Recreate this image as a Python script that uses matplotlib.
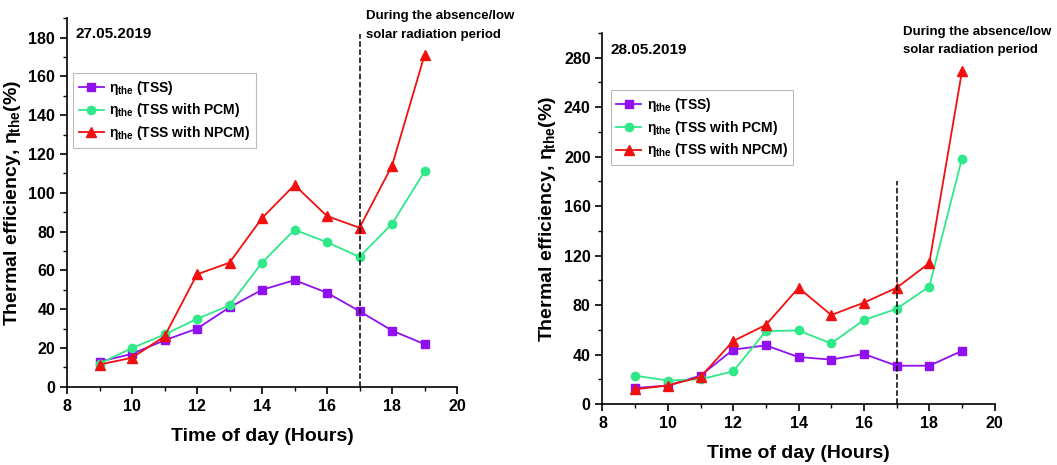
import numpy as np
import matplotlib
matplotlib.use('Agg')
import matplotlib.pyplot as plt
from matplotlib.ticker import MultipleLocator

plt.rcParams['font.family'] = ['Liberation Sans', 'DejaVu Sans']
plt.rcParams['font.weight'] = 'bold'
plt.rcParams['mathtext.fontset'] = 'custom'
plt.rcParams['mathtext.rm'] = 'Liberation Sans:bold'
plt.rcParams['mathtext.it'] = 'Liberation Sans:bold'
plt.rcParams['mathtext.bf'] = 'Liberation Sans:bold'

# Data
hours = [9, 10, 11, 12, 13, 14, 15, 16, 17, 18, 19]

tss_day1 = [13, 17, 24, 30, 41, 50, 55, 48.5, 39, 29, 22]
pcm_day1 = [12, 20, 27, 35, 42, 64, 81, 74.5, 67, 84, 111]
npcm_day1 = [11.5, 15, 26, 58, 64, 87, 104, 88, 82, 114, 171]

tss_day2 = [13, 15, 23, 44, 47.5, 38, 36, 40.5, 31, 31, 43]
pcm_day2 = [23, 19, 20, 26.5, 59, 59.5, 49, 68, 77, 95, 198.5]
npcm_day2 = [12, 15, 22, 51, 64, 94, 72, 82, 94, 114, 269]

dates = ['27.05.2019', '28.05.2019']
labels = [r'$\eta_{the}$ (TSS)', r'$\eta_{the}$ (TSS with PCM)', r'$\eta_{the}$ (TSS with NPCM)']
note = 'During the absence/low\nsolar radiation period'

purple = '#9010f0'
green = '#30e88a'
red = '#f01010'

fig = plt.figure(figsize=(10.57, 4.65), dpi=100)
ax1 = fig.add_axes([0.0634, 0.168, 0.369, 0.793])
ax2 = fig.add_axes([0.570, 0.131, 0.371, 0.798])


def draw(ax, tss, pcm, npcm, date, ymax, ystep, vline_top, date_y, legend_anchor, note_y):
    ax.plot(hours, tss, color=purple, marker='s', ms=6, lw=1.3, label=labels[0])
    ax.plot(hours, pcm, color=green, marker='o', ms=6, lw=1.3, label=labels[1])
    ax.plot(hours, npcm, color=red, marker='^', ms=7, lw=1.3, label=labels[2])
    ax.plot([17, 17], [0, vline_top], color='black', ls='--', lw=1.1)
    ax.set_xlim(8, 20)
    ax.set_ylim(0, ymax)
    ax.xaxis.set_major_locator(MultipleLocator(2))
    ax.xaxis.set_minor_locator(MultipleLocator(1))
    ax.yaxis.set_major_locator(MultipleLocator(ystep))
    ax.yaxis.set_minor_locator(MultipleLocator(ystep / 2))
    ax.spines['top'].set_visible(False)
    ax.spines['right'].set_visible(False)
    ax.spines['left'].set_linewidth(1.2)
    ax.spines['bottom'].set_linewidth(1.2)
    ax.tick_params(which='major', length=5, width=1.2, labelsize=11.5)
    ax.tick_params(which='minor', length=3, width=1.0)
    for t in ax.get_xticklabels() + ax.get_yticklabels():
        t.set_fontweight('bold')
    ax.set_xlabel('Time of day (Hours)', fontsize=14, fontweight='bold', labelpad=10)
    ax.set_ylabel(r'Thermal efficiency, $\eta_{the}$(%)', fontsize=14, fontweight='bold')
    ax.text(8.25, date_y, date, fontsize=11, fontweight='bold', va='center')
    ax.text(17.2, note_y, note, fontsize=9.5, fontweight='bold', va='top',
            linespacing=1.7, clip_on=False)
    leg = ax.legend(loc='upper left', bbox_to_anchor=legend_anchor, fontsize=10,
                    handlelength=1.8, handletextpad=0.4, borderpad=0.4,
                    labelspacing=0.35, borderaxespad=0,
                    fancybox=False, edgecolor='#bbbbbb', framealpha=1)
    leg.get_frame().set_linewidth(0.8)


draw(ax1, tss_day1, pcm_day1, npcm_day1, dates[0], 190, 20, 182, 182,
     (0.016, 0.851), 194)
draw(ax2, tss_day2, pcm_day2, npcm_day2, dates[1], 300, 40, 180, 286,
     (0.021, 0.846), 306)

fig.savefig('out.png', dpi=100)
